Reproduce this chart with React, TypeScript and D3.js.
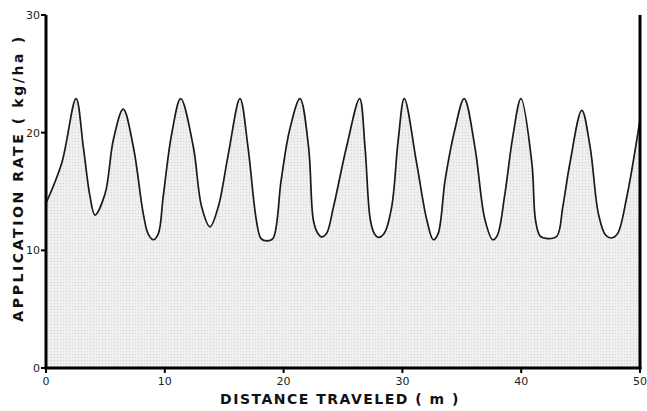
import React from "react";
import * as d3 from "d3";

const distance = [0, 1.32, 2.53, 3.14, 3.7, 4.12, 4.97, 5.67, 6.5, 7.35, 8.19, 8.6, 9.03, 9.45, 9.87, 10.58, 11.34, 12.4, 13.1, 13.8, 14.5, 15.35, 16.33, 17.0, 17.7, 18.1, 18.6, 19.1, 19.8, 20.5, 21.38, 22.1, 22.5, 22.85, 23.2, 23.6, 24.2, 25.3, 26.4, 26.85, 27.3, 27.65, 28.0, 28.5, 29.1, 29.65, 30.16, 31.2, 32.05, 32.6, 33.0, 33.6, 34.4, 35.2, 36.1, 36.95, 37.6, 38.0, 38.6, 39.3, 39.98, 40.9, 41.2, 41.6, 42.2, 43.0, 43.5, 44.1, 45.1, 45.8, 46.5, 47.1, 47.6, 48.1, 48.9, 50];
const rate = [14.0, 17.4, 22.9, 18.8, 14.6, 13.0, 14.8, 19.4, 22.0, 18.8, 13.1, 11.4, 10.9, 11.4, 14.6, 19.9, 22.9, 18.8, 13.7, 12.0, 13.7, 18.2, 22.9, 18.8, 12.6, 11.0, 10.8, 11.0, 16.0, 20.2, 22.9, 18.8, 12.6, 11.5, 11.15, 11.4, 13.7, 18.8, 22.9, 18.8, 12.6, 11.4, 11.1, 11.5, 13.7, 19.4, 22.9, 17.4, 12.6, 10.9, 11.4, 16.0, 20.2, 22.9, 18.8, 12.6, 10.9, 11.3, 14.6, 19.7, 22.9, 17.4, 12.6, 11.2, 11.0, 11.2, 13.7, 17.4, 21.9, 18.8, 13.1, 11.3, 11.05, 11.4, 14.6, 21.1];
const xTicks = [0, 10, 20, 30, 40, 50];
const yTicks = [0, 10, 20, 30];

const W = 647;
const H = 411;
const left = 46;
const right = 640;
const top = 15;
const bottom = 368;

export default function App() {
  const x = d3.scaleLinear().domain([0, 50]).range([left, right]);
  const y = d3.scaleLinear().domain([0, 30]).range([bottom, top]);
  const pts = distance.map((d, i) => [d, rate[i]] as [number, number]);
  const curve = d3.curveCatmullRom.alpha(0.5);
  const line = d3
    .line<[number, number]>()
    .x((d) => x(d[0]))
    .y((d) => y(d[1]))
    .curve(curve);
  const area = d3
    .area<[number, number]>()
    .x((d) => x(d[0]))
    .y0(y(0))
    .y1((d) => y(d[1]))
    .curve(curve);
  const font = "'DejaVu Sans', 'Liberation Sans', sans-serif";
  return (
    <svg
      width={W}
      height={H}
      style={{ position: "absolute", left: 0, top: 0, background: "#fff" }}
    >
      <defs>
        <pattern id="stip" width="3" height="3" patternUnits="userSpaceOnUse">
          <rect width="3" height="3" fill="#efefef" />
          <rect width="1" height="1" fill="#d2d2d2" />
        </pattern>
      </defs>
      <path d={area(pts) || ""} fill="url(#stip)" />
      <path d={line(pts) || ""} fill="none" stroke="#1a1a1a" strokeWidth={1.7} />
      {/* axes */}
      <line x1={left} x2={left} y1={top} y2={bottom + 1} stroke="#000" strokeWidth={3} />
      <line x1={left - 1.5} x2={right + 1.5} y1={bottom} y2={bottom} stroke="#000" strokeWidth={3} />
      <line x1={right} x2={right} y1={top} y2={bottom + 1} stroke="#000" strokeWidth={3} />
      {yTicks.map((t) => (
        <g key={"y" + t}>
          <line x1={left - 5} x2={left} y1={y(t)} y2={y(t)} stroke="#000" strokeWidth={2} />
          <text
            x={left - 6}
            y={y(t) + 4}
            textAnchor="end"
            fontFamily={font}
            fontSize={11}
            fill="#222"
          >
            {t}
          </text>
        </g>
      ))}
      {xTicks.map((t) => (
        <g key={"x" + t}>
          <line x1={x(t)} x2={x(t)} y1={bottom} y2={bottom + 5} stroke="#000" strokeWidth={2} />
          <text
            x={x(t)}
            y={bottom + 17}
            textAnchor="middle"
            fontFamily={font}
            fontSize={11}
            fill="#222"
          >
            {t}
          </text>
        </g>
      ))}
      <text
        x={340}
        y={404}
        textAnchor="middle"
        fontFamily={font}
        fontSize={14}
        fontWeight={600}
        letterSpacing={1.5}
        fill="#111"
      >
        DISTANCE TRAVELED ( m )
      </text>
      <text
        transform={`translate(23, ${178}) rotate(-90)`}
        textAnchor="middle"
        fontFamily={font}
        fontSize={14}
        fontWeight={600}
        letterSpacing={2.6}
        fill="#111"
      >
        APPLICATION RATE ( kg/ha )
      </text>
    </svg>
  );
}
